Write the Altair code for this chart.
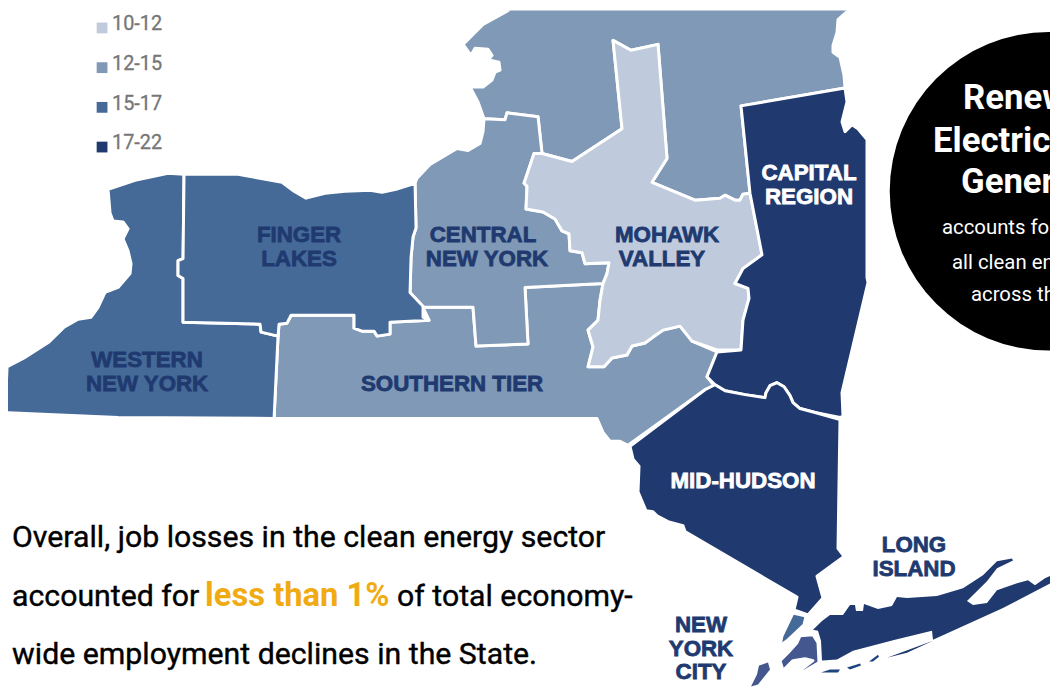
import altair as alt
import pandas as pd

# --- colours per bin
BIN_COLORS = ["#bfcbdd", "#8099b7", "#456a98", "#203a70"]
BIN_LABELS = ["10-12", "12-15", "15-17", "17-22"]
INK = "#203a70"

# --- outlines, in reference picture pixels
western = [(108,188),(135,179),(168,172),(184,173),(183,258),(178,260),(178,275),(183,278),(183,322),(260,324),(261,332),(278,336),(274,419),(118,418),(5,413),(7,367),(24,358),(49,342),(64,327),(78,319),(91,317),(98,307),(105,292),(118,287),(130,273),(131,263),(128,250),(123,238),(128,228),(123,221),(113,220),(110,212)]
finger = [(184,173),(238,173),(282,181),(294,190),(306,197),(325,192),(345,190),(370,189),(382,191),(396,188),(415,182),(416,227),(413,236),(411,257),(410,292),(423,306),(423,317),(429,320),(390,322),(390,334),(377,336),(374,331),(362,331),(354,328),(354,315),(291,315),(287,323),(279,324),(278,336),(261,332),(260,324),(183,322),(183,278),(178,275),(178,260),(183,258)]
southern = [(279,324),(287,323),(291,315),(354,315),(354,328),(362,331),(374,331),(377,336),(390,334),(390,322),(429,320),(423,307),(473,307),(476,346),(528,344),(525,287),(603,283),(600,300),(598,320),(588,330),(593,347),(588,367),(604,367),(612,358),(627,355),(632,346),(645,343),(653,337),(663,330),(680,326),(692,341),(717,352),(707,377),(715,387),(705,390),(628,446),(620,442),(610,442),(603,433),(597,419),(274,419),(278,336)]
central = [(415,182),(417,177),(430,163),(457,147),(468,149),(480,142),(483,130),(484,117),(505,118),(507,111),(538,115),(542,152),(534,152),(528,170),(524,182),(527,185),(526,208),(543,211),(555,218),(562,230),(569,233),(570,250),(582,252),(585,263),(609,262),(607,273),(603,283),(525,287),(528,344),(476,346),(473,307),(423,307),(410,292),(411,257),(413,236),(416,227)]
mohawk = [(613,38),(631,48),(658,42),(667,157),(652,181),(695,199),(720,197),(725,194),(735,199),(740,199),(743,193),(750,192),(762,254),(743,268),(735,283),(748,288),(749,298),(743,320),(741,350),(717,350),(692,341),(680,326),(663,330),(653,337),(645,343),(632,346),(627,355),(612,358),(604,367),(588,367),(593,347),(588,330),(598,320),(600,300),(603,283),(607,273),(609,262),(585,263),(582,252),(570,250),(569,233),(562,230),(555,218),(543,211),(526,208),(527,185),(524,182),(528,170),(534,152),(542,152),(572,160),(622,127)]
north = [(463,42),(483,22),(508,8),(518,0),(847,0),(847,9),(838,17),(837,30),(833,43),(833,50),(840,55),(844,73),(845,86),(741,104),(750,192),(743,193),(740,199),(735,199),(725,194),(720,197),(695,199),(652,181),(667,157),(658,42),(631,48),(613,38),(622,127),(572,160),(542,152),(538,115),(507,111),(505,118),(484,117),(478,100),(470,85),(483,85),(492,78),(495,70),(500,68),(499,60),(490,58),(485,62),(492,53),(488,47),(475,46),(471,53)]
capital = [(741,104),(845,86),(847,100),(842,120),(845,130),(852,123),(858,127),(867,138),(867,277),(868,282),(842,393),(843,417),(840,418),(815,413),(800,409),(793,403),(790,396),(784,387),(777,383),(770,386),(766,393),(765,398),(745,395),(725,391),(715,385),(707,377),(717,352),(741,350),(743,320),(749,298),(748,288),(735,283),(743,268),(762,254),(750,192)]
hudson = [(630,447),(705,390),(715,385),(725,391),(745,395),(765,398),(766,393),(770,386),(777,383),(784,387),(790,396),(793,403),(800,409),(815,413),(840,420),(838,550),(844,558),(817,578),(823,600),(808,617),(794,612),(797,599),(685,533),(683,527),(668,523),(657,517),(653,513),(646,512),(638,493),(639,467),(633,460)]
bronx = [(793,615),(806,618),(804,627),(787,643),(780,648),(782,638)]
queens = [(800,638),(813,637),(818,645),(819,665),(802,675),(800,673),(813,663),(805,661),(793,663),(783,673),(780,663),(788,655),(797,645)]
staten = [(768,665),(770,672),(758,687),(751,689),(757,677),(759,668)]
long_island = [(822,623),(830,617),(843,617),(850,607),(855,607),(856,613),(863,613),(864,606),(878,611),(892,608),(897,599),(907,600),(937,598),(963,590),(983,577),(997,563),(1012,560),(1013,562),(997,570),(987,583),(967,603),(973,607),(987,605),(997,592),(1017,585),(1028,582),(1035,587),(1045,580),(1060,573),(1060,580),(1003,610),(933,642),(932,633),(895,642),(853,653),(837,662),(822,663),(821,643),(818,633),(813,632)]
barrier_a = [(821,675),(830,672),(840,672),(838,675)]
barrier_b = [(847,670),(860,666),(861,668),(850,672)]
barrier_c = [(869,664),(878,657),(879,659),(873,664)]
barrier_d = [(887,660),(933,643),(907,655)]

stroked = [
    (north, BIN_COLORS[1]), (southern, BIN_COLORS[1]), (central, BIN_COLORS[1]),
    (western, BIN_COLORS[2]), (finger, BIN_COLORS[2]), (mohawk, BIN_COLORS[0]),
    (capital, BIN_COLORS[3]), (hudson, BIN_COLORS[3]),
    (bronx, BIN_COLORS[2]), (queens, "#45578f"),
]
plain = [
    (long_island, BIN_COLORS[3]), (staten, "#45578f"), (barrier_a, "#1d4480"),
    (barrier_b, "#1d4480"), (barrier_c, "#1d4480"), (barrier_d, BIN_COLORS[3]),
]

# --- text: x, baseline y, text
legend_texts = [(112, 28, BIN_LABELS[0]), (112, 68, BIN_LABELS[1]), (112, 108, BIN_LABELS[2]), (112, 147, BIN_LABELS[3])]
legend_squares_x = [102, 102, 102, 102]
legend_squares_y = [25.5, 65.5, 105.5, 145.5]
dark_labels = [(299,241,"FINGER"),(299,265,"LAKES"),(483,241,"CENTRAL"),(487,265,"NEW YORK"),(667,241,"MOHAWK"),(662,265,"VALLEY"),(147,367,"WESTERN"),(147,391,"NEW YORK"),(452,391,"SOUTHERN TIER"),(914,554,"LONG"),(914,578,"ISLAND"),(701,634,"NEW"),(701,658,"YORK"),(701,682,"CITY")]
white_labels = [(809,179,"CAPITAL"),(809,203,"REGION"),(743,489,"MID-HUDSON")]
body_black = [(12,549,"Overall, job losses in the clean energy sector"),(12,608,"accounted for"),(397,608,"of total economy-"),(12,666,"wide employment declines in the State.")]
body_gold = [(205,608,"less than 1%")]
circle_head = [(963,107,"Renew"),(933,150,"Electric"),(961,192,"Gener")]
circle_sub = [(942,233,"accounts for"),(952,268,"all clean en"),(971,301,"across th")]
circle_center = [(1049, 190)]

PANEL_W, PANEL_H = 1050, 682
K = 1.0076  # the photographed page comes out slightly narrower; this offsets it
X = alt.Scale(domain=[8 / K, (PANEL_W + 8) / K], range=[0, PANEL_W], nice=False, zero=False)
Y = alt.Scale(domain=[8, PANEL_H + 8], range=[0, PANEL_H], nice=False, zero=False)


def geo(items, **mark):
    feats = [{"type": "Feature", "properties": {"c": c},
              "geometry": {"type": "Polygon", "coordinates": [[[x * K, y] for x, y in (pts + [pts[0]])]]}}
             for pts, c in items]
    data = alt.InlineData(values={"type": "FeatureCollection", "features": feats},
                          format=alt.DataFormat(property="features", type="json"))
    return alt.Chart(data).mark_geoshape(**mark).encode(
        color=alt.Color("properties.c:N", scale=None, legend=None)).project(
        type="identity", scale=1, translate=[-8, -8])


def text(rows, **mark):
    df = pd.DataFrame(rows, columns=["x", "y", "t"])
    return alt.Chart(df).mark_text(baseline="alphabetic", **mark).encode(
        x=alt.X("x:Q", scale=X, axis=None), y=alt.Y("y:Q", scale=Y, axis=None), text="t:N")


SANS = "Roboto"
HEAVY = "Liberation Sans"

squares = alt.Chart(pd.DataFrame({"x": legend_squares_x, "y": legend_squares_y, "c": BIN_COLORS})).mark_square(
    size=118, opacity=1).encode(
    x=alt.X("x:Q", scale=X, axis=None), y=alt.Y("y:Q", scale=Y, axis=None),
    color=alt.Color("c:N", scale=None, legend=None))
circle = alt.Chart(pd.DataFrame(circle_center, columns=["x", "y"])).mark_circle(
    size=103000, color="black", opacity=1).encode(
    x=alt.X("x:Q", scale=X, axis=None), y=alt.Y("y:Q", scale=Y, axis=None))

chart = alt.layer(
    geo(stroked, stroke="white", strokeWidth=3, strokeJoin="round"),
    geo(plain, strokeWidth=0),
    circle,
    squares,
    text(legend_texts, align="left", font=SANS, fontSize=20, color="#757678", stroke="#757678", strokeWidth=0.3),
    text(dark_labels, align="center", font=HEAVY, fontSize=22.5, fontWeight="bold", color=INK, stroke=INK, strokeWidth=0.8),
    text(white_labels, align="center", font=HEAVY, fontSize=22.5, fontWeight="bold", color="white", stroke="white", strokeWidth=0.8),
    text(body_black, align="left", font=SANS, fontSize=30.5, color="black", stroke="black", strokeWidth=0.4),
    text(body_gold, align="left", font=SANS, fontSize=33, fontWeight="bold", color="#f0ab13"),
    text(circle_head, align="left", font=SANS, fontSize=35, fontWeight="bold", color="white"),
    text(circle_sub, align="left", font=SANS, fontSize=20.5, color="white"),
).properties(width=PANEL_W, height=PANEL_H, padding=0, autosize=alt.AutoSizeParams(type="none")).configure_view(stroke=None)

chart.save("out.html", embed_options={"renderer": "svg", "actions": False})
